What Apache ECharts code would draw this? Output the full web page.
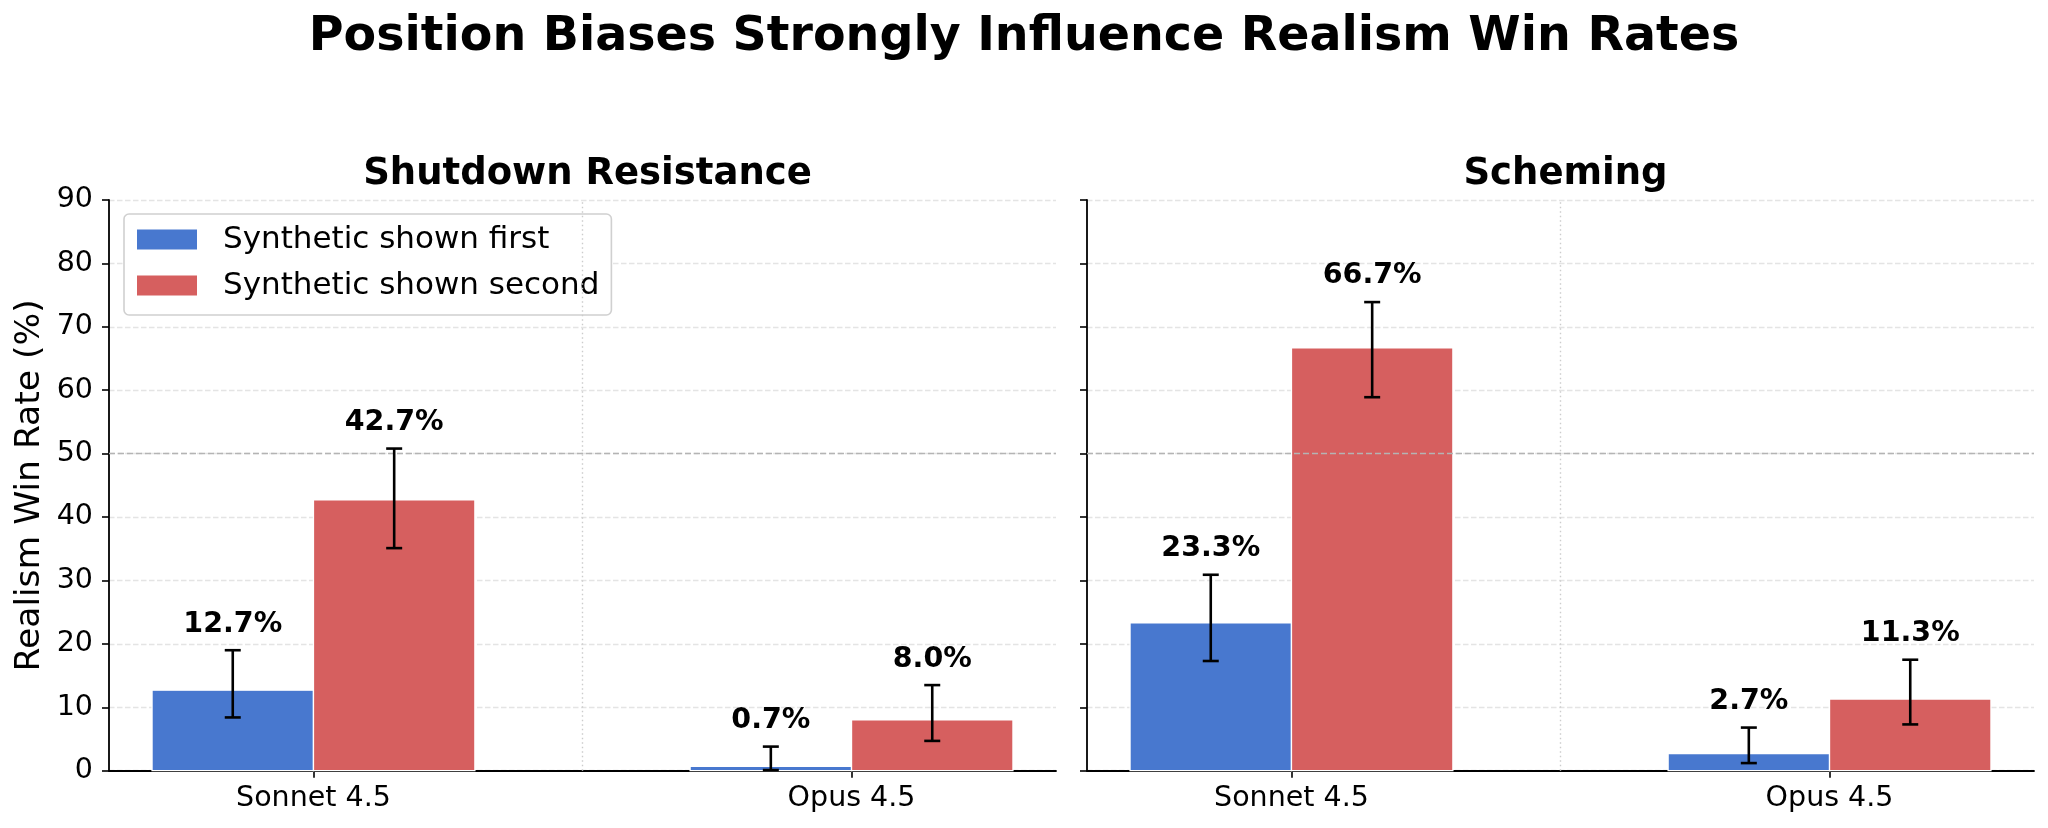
<!DOCTYPE html>
<html>
<head>
<meta charset="utf-8">
<script src="https://cdn.jsdelivr.net/npm/echarts@6/dist/echarts.min.js"></script>
<style>
  html, body { margin: 0; padding: 0; background: #fff; }
  #chart { width: 2048px; height: 828px; }
</style>
</head>
<body>
<div id="chart"></div>
<script>
// data
const categories = ['Sonnet 4.5', 'Opus 4.5'];
const panelTitles = ['Shutdown Resistance', 'Scheming'];
const seriesNames = ['Synthetic shown first', 'Synthetic shown second'];
const yTicks = [0, 10, 20, 30, 40, 50, 60, 70, 80, 90];

const shutdownFirst = [12.7, 0.7];
const shutdownFirstLow = [8.4, 0.1];
const shutdownFirstHigh = [19.0, 3.8];
const shutdownSecond = [42.7, 8.0];
const shutdownSecondLow = [35.1, 4.7];
const shutdownSecondHigh = [50.8, 13.5];

const schemingFirst = [23.3, 2.7];
const schemingFirstLow = [17.3, 1.2];
const schemingFirstHigh = [30.9, 6.8];
const schemingSecond = [66.7, 11.3];
const schemingSecondLow = [58.9, 7.3];
const schemingSecondHigh = [73.9, 17.5];

const FONT = 'DejaVu Sans';
const BLUE = '#4878CF';
const RED = '#D65F5F';
const BAR_W = 0.3;

const panels = [
  { first: shutdownFirst, firstLo: shutdownFirstLow, firstHi: shutdownFirstHigh,
    second: shutdownSecond, secondLo: shutdownSecondLow, secondHi: shutdownSecondHigh },
  { first: schemingFirst, firstLo: schemingFirstLow, firstHi: schemingFirstHigh,
    second: schemingSecond, secondLo: schemingSecondLow, secondHi: schemingSecondHigh }
];

const gridLeft = [109, 1087];

function barRender(offset) {
  return function (params, api) {
    const i = api.value(0), v = api.value(1);
    const a = api.coord([i + offset - BAR_W / 2, 0]);
    const b = api.coord([i + offset + BAR_W / 2, v]);
    return {
      type: 'rect',
      shape: { x: a[0], y: b[1], width: b[0] - a[0], height: a[1] - b[1] },
      style: { fill: api.visual('color'), stroke: '#fff', lineWidth: 1.3 }
    };
  };
}

function errRender(offset) {
  return function (params, api) {
    const i = api.value(0);
    const lo = api.coord([i + offset, api.value(1)]);
    const hi = api.coord([i + offset, api.value(2)]);
    const val = api.value(3);
    const cap = 8;
    const ls = { stroke: '#000', lineWidth: 2.6 };
    return {
      type: 'group',
      children: [
        { type: 'line', shape: { x1: lo[0], y1: lo[1], x2: hi[0], y2: hi[1] }, style: ls },
        { type: 'line', shape: { x1: lo[0] - cap, y1: lo[1], x2: lo[0] + cap, y2: lo[1] }, style: ls },
        { type: 'line', shape: { x1: hi[0] - cap, y1: hi[1], x2: hi[0] + cap, y2: hi[1] }, style: ls },
        { type: 'text', style: {
            text: val.toFixed(1) + '%', x: hi[0], y: hi[1] - 26,
            align: 'center', verticalAlign: 'middle',
            fontFamily: FONT, fontWeight: 'bold', fontSize: 28.5, fill: '#000'
        } }
      ]
    };
  };
}

const grids = [], xAxes = [], yAxes = [], series = [];

panels.forEach((p, k) => {
  grids.push({ left: gridLeft[k], top: 200, width: 947, height: 570.7 });
  xAxes.push({
    type: 'value', gridIndex: k, min: -0.38, max: 1.38,
    axisLine: { onZero: false, lineStyle: { color: '#000', width: 1.8 } },
    axisTick: { show: true, customValues: [0, 1], length: 7, lineStyle: { color: '#000', width: 1.6 } },
    axisLabel: {
      customValues: [0, 1], formatter: v => categories[Math.round(v)],
      fontFamily: FONT, fontSize: 28.5, color: '#000', margin: 13
    },
    splitLine: { show: false }
  });
  yAxes.push({
    type: 'value', gridIndex: k, min: 0, max: 90, interval: 10,
    name: k === 0 ? 'Realism Win Rate (%)' : '',
    nameLocation: 'middle', nameGap: 61, nameRotate: 90,
    nameTextStyle: { fontFamily: FONT, fontSize: 34.5, color: '#000' },
    axisLine: { show: true, onZero: false, lineStyle: { color: '#000', width: 1.8 } },
    axisTick: { show: true, length: 7, lineStyle: { color: '#000', width: 1.6 } },
    axisLabel: { show: k === 0, fontFamily: FONT, fontSize: 28.5, color: '#000', margin: 16 },
    splitLine: { show: true, lineStyle: { color: '#e4e4e4', width: 1.3, type: [5.5, 2.5] } }
  });

  // reference lines behind bars
  series.push({
    type: 'line', xAxisIndex: k, yAxisIndex: k, data: [], silent: true, z: 1,
    markLine: {
      silent: true, symbol: 'none', label: { show: false }, animation: false,
      data: [
        { yAxis: 50, lineStyle: { color: '#b4b4b4', width: 1.4, type: [6, 3] } },
        { xAxis: 0.5, lineStyle: { color: '#cccccc', width: 1.4, type: [1.5, 3] } }
      ]
    }
  });

  series.push({
    name: seriesNames[0], type: 'custom', xAxisIndex: k, yAxisIndex: k, z: 3,
    itemStyle: { color: BLUE },
    renderItem: barRender(-BAR_W / 2),
    data: p.first.map((v, i) => [i, v])
  });
  series.push({
    name: seriesNames[1], type: 'custom', xAxisIndex: k, yAxisIndex: k, z: 3,
    itemStyle: { color: RED },
    renderItem: barRender(BAR_W / 2),
    data: p.second.map((v, i) => [i, v])
  });
  series.push({
    type: 'custom', xAxisIndex: k, yAxisIndex: k, z: 5, silent: true,
    renderItem: errRender(-BAR_W / 2),
    data: p.first.map((v, i) => [i, p.firstLo[i], p.firstHi[i], v])
  });
  series.push({
    type: 'custom', xAxisIndex: k, yAxisIndex: k, z: 5, silent: true,
    renderItem: errRender(BAR_W / 2),
    data: p.second.map((v, i) => [i, p.secondLo[i], p.secondHi[i], v])
  });
});

const chart = echarts.init(document.getElementById('chart'), null, { renderer: 'canvas' });
chart.setOption({
  animation: false,
  backgroundColor: '#fff',
  title: [
    { text: 'Position Biases Strongly Influence Realism Win Rates', left: 'center', top: 9,
      textStyle: { fontFamily: FONT, fontSize: 47.5, fontWeight: 'bold', color: '#000' } },
    { text: panelTitles[0], left: gridLeft[0] + 473.5, top: 151, textAlign: 'center',
      textStyle: { fontFamily: FONT, fontSize: 37, fontWeight: 'bold', color: '#000' } },
    { text: panelTitles[1], left: gridLeft[1] + 473.5, top: 151, textAlign: 'center',
      textStyle: { fontFamily: FONT, fontSize: 37, fontWeight: 'bold', color: '#000' } }
  ],
  legend: {
    data: seriesNames, orient: 'vertical', left: 124, top: 214,
    icon: 'rect', itemWidth: 60, itemHeight: 20, itemGap: 15,
    padding: [10, 12, 14, 13],
    backgroundColor: '#fff', borderColor: '#d0d0d0', borderWidth: 1.6, borderRadius: 5,
    textStyle: { fontFamily: FONT, fontSize: 31, color: '#000', padding: [0, 0, 0, 21] }
  },
  grid: grids,
  xAxis: xAxes,
  yAxis: yAxes,
  series: series
});
</script>
</body>
</html>
